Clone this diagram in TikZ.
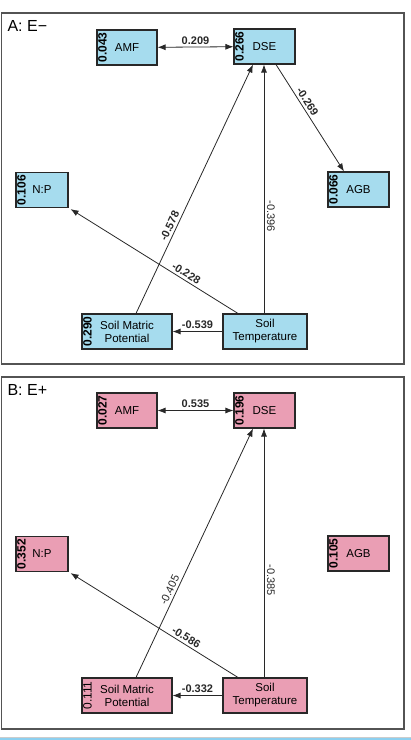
\documentclass[tikz,border=0pt]{standalone}
\usepackage{fontspec}
\setmainfont{Liberation Sans}
\usetikzlibrary{arrows.meta,positioning}
\definecolor{boxblue}{RGB}{166,220,238}
\definecolor{boxpink}{RGB}{234,158,180}
\definecolor{edgeline}{RGB}{40,40,40}
\definecolor{bandblue}{RGB}{140,208,240}

\begin{document}
\begin{tikzpicture}[
  x=1pt, y=-1pt,
  font=\fontsize{11.5}{13}\selectfont,
  var/.style={draw=edgeline, line width=1.1pt, align=center, inner sep=0pt,
    minimum height=35pt},
  varA/.style={var, fill=boxblue},
  varB/.style={var, fill=boxpink},
  rsq/.style={rotate=90, anchor=north, inner sep=1.5pt, font=\fontsize{12}{12}\selectfont\bfseries},
  coef/.style={font=\fontsize{11}{12}\selectfont\bfseries, inner sep=2.5pt},
  plain/.style={font=\fontsize{11}{12}\selectfont, inner sep=2.5pt},
  arrow/.style={-{Latex[length=8pt,width=6pt]}, line width=0.8pt, edgeline},
  both/.style={{Latex[length=8pt,width=6pt]}-{Latex[length=8pt,width=6pt]}, line width=0.8pt, edgeline},
  panel/.style={draw=edgeline!80, line width=1.2pt}
]
\useasboundingbox (0,0) rectangle (411,740);

% panel A: E-
\draw[panel] (1.5,13) rectangle (404,364);
\node[anchor=west, font=\fontsize{16}{18}\selectfont] (labA) at (4,26) {A: E\textminus};

\node[varA, minimum width=60pt] (amfA) at (127,47.5) {AMF};
\node[varA, minimum width=61pt] (dseA) at (264.5,46.5) {DSE};
\node[varA, minimum width=52pt] (npA) at (42,190) {N:P};
\node[varA, minimum width=61pt] (agbA) at (358.5,189.5) {AGB};
\node[varA, minimum width=90pt] (smpA) at (127,331.5) {Soil Matric\\Potential};
\node[varA, minimum width=84pt] (stA) at (265,331.5) {Soil\\Temperature};

\node[rsq] at (amfA.west) {0.043};
\node[rsq] at (dseA.west) {0.266};
\node[rsq] at (npA.west) {0.106};
\node[rsq] at (agbA.west) {0.066};
\node[rsq] at (smpA.west) {0.290};

\draw[both] (amfA) -- node[coef, above] {0.209} (dseA);
\draw[arrow] ([xshift=11.5pt]dseA.south) -- node[coef, pos=0.38, sloped, above] {-0.269} ([xshift=-14.5pt]agbA.north);
\draw[arrow] ([xshift=-1pt]stA.north) -- node[plain, pos=0.39, rotate=-90, anchor=south] {-0.396} ([xshift=-1pt]stA.north |- dseA.south);
\draw[arrow] ([xshift=9pt]smpA.north) -- node[coef, pos=0.34, sloped, above] {-0.578} ([xshift=-11.5pt]dseA.south);
\draw[arrow] ([xshift=-27pt]stA.north) -- node[coef, pos=0.33, sloped, above] {-0.228} ([xshift=2pt,yshift=-1pt]npA.south east);
\draw[arrow] (stA) -- node[coef, above] {-0.539} (smpA);

% panel B: E+
\draw[panel] (1.5,377) rectangle (404,729);
\node[anchor=west, font=\fontsize{16}{18}\selectfont] (labB) at (4,390) {B: E+};

\node[varB, minimum width=60pt] (amfB) at (127,410.5) {AMF};
\node[varB, minimum width=61pt] (dseB) at (264.5,410.5) {DSE};
\node[varB, minimum width=52pt] (npB) at (42,554) {N:P};
\node[varB, minimum width=61pt] (agbB) at (358.5,553.5) {AGB};
\node[varB, minimum width=90pt] (smpB) at (127,695.5) {Soil Matric\\Potential};
\node[varB, minimum width=84pt] (stB) at (265,695.5) {Soil\\Temperature};

\node[rsq] at (amfB.west) {0.027};
\node[rsq] at (dseB.west) {0.196};
\node[rsq] at (npB.west) {0.352};
\node[rsq] at (agbB.west) {0.105};
\node[rsq, font=\fontsize{12}{12}\selectfont] at (smpB.west) {0.111};

\draw[both] (amfB) -- node[coef, above] {0.535} (dseB);
\draw[arrow] ([xshift=-1pt]stB.north) -- node[plain, pos=0.39, rotate=-90, anchor=south] {-0.385} ([xshift=-1pt]stB.north |- dseB.south);
\draw[arrow] ([xshift=9pt]smpB.north) -- node[plain, pos=0.34, sloped, above] {-0.405} ([xshift=-11.5pt]dseB.south);
\draw[arrow] ([xshift=-27pt]stB.north) -- node[coef, pos=0.33, sloped, above] {-0.586} ([xshift=2pt,yshift=-1pt]npB.south east);
\draw[arrow] (stB) -- node[coef, above] {-0.332} (smpB);

% bottom band
\fill[bandblue] (0,737.5) rectangle (411,740);
\draw[black!20, line width=0.5pt] (0,737) -- (411,737);
\end{tikzpicture}
\end{document}
